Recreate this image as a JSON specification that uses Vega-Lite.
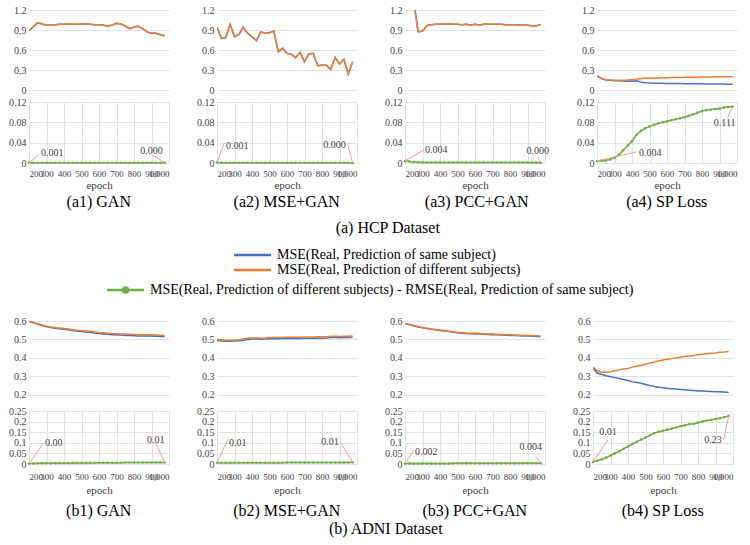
{
"$schema": "https://vega.github.io/schema/vega-lite/v6.json",
"padding": {"left": 8, "top": 5, "right": 5, "bottom": 5},
"background": "white",
"config": {
  "font": "Times New Roman, Liberation Serif, DejaVu Serif, serif",
  "view": {"stroke": null},
  "axis": {"labelFontSize": 10, "labelColor": "#404040", "domain": false, "ticks": false, "gridColor": "#D9D9D9", "gridWidth": 0.8, "titleFontSize": 11, "titleFontWeight": "normal", "titleColor": "#404040", "labelPadding": 3},
  "legend": {"labelFont": "Times New Roman, Liberation Serif, DejaVu Serif, serif"},
  "title": {"font": "Times New Roman, Liberation Serif, DejaVu Serif, serif", "fontSize": 16, "fontWeight": "normal", "color": "#000000", "orient": "bottom", "anchor": "middle", "offset": 4, "dx": 10},
  "text": {"fontSize": 10, "color": "#404040", "baseline": "middle"}
},
"datasets": {
"a1": [
{"e":200,"s":0.89,"d":0.89,"g":0.0008},{"e":225,"s":0.95,"d":0.95,"g":0.0005},{"e":250,"s":1.01,"d":1.01,"g":0.0005},{"e":275,"s":0.99,"d":0.99,"g":0.0005},
{"e":300,"s":0.97,"d":0.97,"g":0.0005},{"e":325,"s":0.975,"d":0.975,"g":0.0005},{"e":350,"s":0.98,"d":0.98,"g":0.0005},{"e":375,"s":0.985,"d":0.985,"g":0.0005},
{"e":400,"s":0.985,"d":0.985,"g":0.0005},{"e":425,"s":0.99,"d":0.99,"g":0.0005},{"e":450,"s":0.985,"d":0.985,"g":0.0005},{"e":475,"s":0.985,"d":0.985,"g":0.0005},
{"e":500,"s":0.99,"d":0.99,"g":0.0005},{"e":525,"s":0.99,"d":0.99,"g":0.0005},{"e":550,"s":0.985,"d":0.985,"g":0.0005},{"e":575,"s":0.98,"d":0.98,"g":0.0005},
{"e":600,"s":0.98,"d":0.98,"g":0.0005},{"e":625,"s":0.975,"d":0.975,"g":0.0005},{"e":650,"s":0.955,"d":0.955,"g":0.0005},{"e":675,"s":0.975,"d":0.975,"g":0.0005},
{"e":700,"s":1.0,"d":1.0,"g":0.0005},{"e":725,"s":0.99,"d":0.99,"g":0.0005},{"e":750,"s":0.96,"d":0.96,"g":0.0005},{"e":775,"s":0.92,"d":0.92,"g":0.0005},
{"e":800,"s":0.945,"d":0.945,"g":0.0005},{"e":825,"s":0.955,"d":0.955,"g":0.0005},{"e":850,"s":0.92,"d":0.92,"g":0.0005},{"e":875,"s":0.87,"d":0.87,"g":0.0005},
{"e":900,"s":0.85,"d":0.85,"g":0.0005},{"e":925,"s":0.85,"d":0.85,"g":0.0005},{"e":950,"s":0.83,"d":0.83,"g":0.0004},{"e":975,"s":0.815,"d":0.815,"g":0.0003}
],
"a2": [
{"e":200,"s":0.95,"d":0.95,"g":0.0009},{"e":225,"s":0.775,"d":0.775,"g":0.0005},{"e":250,"s":0.785,"d":0.785,"g":0.0005},{"e":275,"s":0.985,"d":0.985,"g":0.0005},
{"e":300,"s":0.8,"d":0.8,"g":0.0005},{"e":325,"s":0.835,"d":0.835,"g":0.0005},{"e":350,"s":0.94,"d":0.94,"g":0.0005},{"e":375,"s":0.85,"d":0.85,"g":0.0005},
{"e":400,"s":0.8,"d":0.8,"g":0.0005},{"e":425,"s":0.74,"d":0.74,"g":0.0005},{"e":450,"s":0.87,"d":0.87,"g":0.0005},{"e":475,"s":0.85,"d":0.85,"g":0.0005},
{"e":500,"s":0.86,"d":0.86,"g":0.0005},{"e":525,"s":0.885,"d":0.885,"g":0.0005},{"e":550,"s":0.575,"d":0.575,"g":0.0005},{"e":575,"s":0.625,"d":0.625,"g":0.0005},
{"e":600,"s":0.55,"d":0.55,"g":0.0005},{"e":625,"s":0.535,"d":0.535,"g":0.0005},{"e":650,"s":0.485,"d":0.485,"g":0.0005},{"e":675,"s":0.565,"d":0.565,"g":0.0005},
{"e":700,"s":0.425,"d":0.425,"g":0.0005},{"e":725,"s":0.54,"d":0.54,"g":0.0005},{"e":750,"s":0.55,"d":0.55,"g":0.0005},{"e":775,"s":0.365,"d":0.365,"g":0.0005},
{"e":800,"s":0.37,"d":0.37,"g":0.0005},{"e":825,"s":0.37,"d":0.37,"g":0.0005},{"e":850,"s":0.31,"d":0.31,"g":0.0005},{"e":875,"s":0.49,"d":0.49,"g":0.0005},
{"e":900,"s":0.39,"d":0.39,"g":0.0005},{"e":925,"s":0.46,"d":0.46,"g":0.0005},{"e":950,"s":0.24,"d":0.24,"g":0.0004},{"e":975,"s":0.425,"d":0.425,"g":0.0002}
],
"a3": [
{"e":200,"s":1.5,"d":1.5,"g":0.004},{"e":225,"s":1.45,"d":1.45,"g":0.003},{"e":250,"s":1.33,"d":1.33,"g":0.002},{"e":275,"s":0.875,"d":0.875,"g":0.0015},
{"e":300,"s":0.88,"d":0.88,"g":0.0012},{"e":325,"s":0.965,"d":0.965,"g":0.001},{"e":350,"s":0.98,"d":0.98,"g":0.001},{"e":375,"s":0.985,"d":0.985,"g":0.001},
{"e":400,"s":0.985,"d":0.985,"g":0.001},{"e":425,"s":0.99,"d":0.99,"g":0.001},{"e":450,"s":0.99,"d":0.99,"g":0.001},{"e":475,"s":0.985,"d":0.985,"g":0.001},
{"e":500,"s":0.985,"d":0.985,"g":0.001},{"e":525,"s":0.98,"d":0.98,"g":0.001},{"e":550,"s":0.985,"d":0.985,"g":0.001},{"e":575,"s":0.975,"d":0.975,"g":0.001},
{"e":600,"s":0.985,"d":0.985,"g":0.001},{"e":625,"s":0.975,"d":0.975,"g":0.001},{"e":650,"s":0.985,"d":0.985,"g":0.001},{"e":675,"s":0.985,"d":0.985,"g":0.001},
{"e":700,"s":0.985,"d":0.985,"g":0.001},{"e":725,"s":0.985,"d":0.985,"g":0.001},{"e":750,"s":0.985,"d":0.985,"g":0.001},{"e":775,"s":0.98,"d":0.98,"g":0.001},
{"e":800,"s":0.98,"d":0.98,"g":0.001},{"e":825,"s":0.98,"d":0.98,"g":0.001},{"e":850,"s":0.975,"d":0.975,"g":0.001},{"e":875,"s":0.975,"d":0.975,"g":0.001},
{"e":900,"s":0.97,"d":0.97,"g":0.0009},{"e":925,"s":0.965,"d":0.965,"g":0.0008},{"e":950,"s":0.96,"d":0.96,"g":0.0006},{"e":975,"s":0.985,"d":0.985,"g":0.0003}
],
"a4": [
{"e":200,"s":0.21,"d":0.21,"g":0.004},{"e":225,"s":0.17,"d":0.175,"g":0.004},{"e":250,"s":0.15,"d":0.155,"g":0.005},{"e":275,"s":0.145,"d":0.15,"g":0.007},
{"e":300,"s":0.14,"d":0.148,"g":0.01},{"e":325,"s":0.138,"d":0.148,"g":0.016},{"e":350,"s":0.135,"d":0.148,"g":0.025},{"e":375,"s":0.132,"d":0.15,"g":0.034},
{"e":400,"s":0.13,"d":0.155,"g":0.043},{"e":425,"s":0.14,"d":0.16,"g":0.055},{"e":450,"s":0.12,"d":0.17,"g":0.063},{"e":475,"s":0.11,"d":0.18,"g":0.068},
{"e":500,"s":0.105,"d":0.175,"g":0.072},{"e":525,"s":0.103,"d":0.178,"g":0.075},{"e":550,"s":0.102,"d":0.18,"g":0.078},{"e":575,"s":0.1,"d":0.182,"g":0.08},
{"e":600,"s":0.099,"d":0.184,"g":0.082},{"e":625,"s":0.098,"d":0.186,"g":0.084},{"e":650,"s":0.097,"d":0.187,"g":0.086},{"e":675,"s":0.096,"d":0.188,"g":0.088},
{"e":700,"s":0.095,"d":0.19,"g":0.09},{"e":725,"s":0.094,"d":0.191,"g":0.093},{"e":750,"s":0.093,"d":0.192,"g":0.096},{"e":775,"s":0.092,"d":0.193,"g":0.099},
{"e":800,"s":0.092,"d":0.194,"g":0.102},{"e":825,"s":0.091,"d":0.195,"g":0.104},{"e":850,"s":0.09,"d":0.196,"g":0.105},{"e":875,"s":0.09,"d":0.197,"g":0.106},
{"e":900,"s":0.089,"d":0.197,"g":0.107},{"e":925,"s":0.089,"d":0.198,"g":0.109},{"e":950,"s":0.088,"d":0.199,"g":0.11},{"e":975,"s":0.088,"d":0.2,"g":0.111}
],
"b1": [
{"e":200,"s":0.598,"d":0.6,"g":0.002},{"e":225,"s":0.59,"d":0.592,"g":0.002},{"e":250,"s":0.582,"d":0.585,"g":0.003},{"e":275,"s":0.575,"d":0.578,"g":0.003},
{"e":300,"s":0.569,"d":0.572,"g":0.003},{"e":325,"s":0.565,"d":0.568,"g":0.003},{"e":350,"s":0.561,"d":0.565,"g":0.004},{"e":375,"s":0.558,"d":0.562,"g":0.004},
{"e":400,"s":0.555,"d":0.559,"g":0.004},{"e":425,"s":0.552,"d":0.556,"g":0.004},{"e":450,"s":0.548,"d":0.553,"g":0.005},{"e":475,"s":0.545,"d":0.55,"g":0.005},
{"e":500,"s":0.543,"d":0.548,"g":0.005},{"e":525,"s":0.541,"d":0.546,"g":0.005},{"e":550,"s":0.539,"d":0.544,"g":0.005},{"e":575,"s":0.535,"d":0.541,"g":0.006},
{"e":600,"s":0.532,"d":0.538,"g":0.006},{"e":625,"s":0.53,"d":0.536,"g":0.006},{"e":650,"s":0.528,"d":0.534,"g":0.006},{"e":675,"s":0.526,"d":0.532,"g":0.006},
{"e":700,"s":0.525,"d":0.531,"g":0.006},{"e":725,"s":0.524,"d":0.53,"g":0.006},{"e":750,"s":0.522,"d":0.529,"g":0.007},{"e":775,"s":0.521,"d":0.528,"g":0.007},
{"e":800,"s":0.52,"d":0.527,"g":0.007},{"e":825,"s":0.519,"d":0.526,"g":0.007},{"e":850,"s":0.519,"d":0.526,"g":0.007},{"e":875,"s":0.518,"d":0.525,"g":0.007},
{"e":900,"s":0.518,"d":0.525,"g":0.007},{"e":925,"s":0.517,"d":0.524,"g":0.007},{"e":950,"s":0.516,"d":0.523,"g":0.007},{"e":975,"s":0.515,"d":0.522,"g":0.007}
],
"b2": [
{"e":200,"s":0.494,"d":0.5,"g":0.006},{"e":225,"s":0.492,"d":0.498,"g":0.006},{"e":250,"s":0.49,"d":0.496,"g":0.006},{"e":275,"s":0.49,"d":0.496,"g":0.006},
{"e":300,"s":0.491,"d":0.497,"g":0.006},{"e":325,"s":0.493,"d":0.499,"g":0.006},{"e":350,"s":0.496,"d":0.502,"g":0.006},{"e":375,"s":0.5,"d":0.506,"g":0.006},
{"e":400,"s":0.502,"d":0.508,"g":0.006},{"e":425,"s":0.502,"d":0.508,"g":0.006},{"e":450,"s":0.501,"d":0.507,"g":0.006},{"e":475,"s":0.502,"d":0.508,"g":0.006},
{"e":500,"s":0.504,"d":0.51,"g":0.006},{"e":525,"s":0.505,"d":0.511,"g":0.006},{"e":550,"s":0.504,"d":0.51,"g":0.006},{"e":575,"s":0.505,"d":0.511,"g":0.006},
{"e":600,"s":0.505,"d":0.512,"g":0.007},{"e":625,"s":0.505,"d":0.512,"g":0.007},{"e":650,"s":0.505,"d":0.512,"g":0.007},{"e":675,"s":0.505,"d":0.512,"g":0.007},
{"e":700,"s":0.506,"d":0.513,"g":0.007},{"e":725,"s":0.506,"d":0.513,"g":0.007},{"e":750,"s":0.506,"d":0.513,"g":0.007},{"e":775,"s":0.507,"d":0.514,"g":0.007},
{"e":800,"s":0.507,"d":0.514,"g":0.007},{"e":825,"s":0.508,"d":0.515,"g":0.007},{"e":850,"s":0.51,"d":0.517,"g":0.007},{"e":875,"s":0.51,"d":0.517,"g":0.007},
{"e":900,"s":0.509,"d":0.516,"g":0.007},{"e":925,"s":0.51,"d":0.517,"g":0.007},{"e":950,"s":0.51,"d":0.517,"g":0.007},{"e":975,"s":0.512,"d":0.519,"g":0.008}
],
"b3": [
{"e":200,"s":0.585,"d":0.587,"g":0.002},{"e":225,"s":0.58,"d":0.582,"g":0.002},{"e":250,"s":0.574,"d":0.576,"g":0.002},{"e":275,"s":0.568,"d":0.57,"g":0.002},
{"e":300,"s":0.563,"d":0.565,"g":0.002},{"e":325,"s":0.559,"d":0.561,"g":0.002},{"e":350,"s":0.555,"d":0.557,"g":0.002},{"e":375,"s":0.552,"d":0.554,"g":0.002},
{"e":400,"s":0.549,"d":0.551,"g":0.002},{"e":425,"s":0.546,"d":0.548,"g":0.002},{"e":450,"s":0.543,"d":0.545,"g":0.002},{"e":475,"s":0.539,"d":0.542,"g":0.003},
{"e":500,"s":0.536,"d":0.539,"g":0.003},{"e":525,"s":0.534,"d":0.537,"g":0.003},{"e":550,"s":0.532,"d":0.535,"g":0.003},{"e":575,"s":0.531,"d":0.534,"g":0.003},
{"e":600,"s":0.53,"d":0.533,"g":0.003},{"e":625,"s":0.529,"d":0.532,"g":0.003},{"e":650,"s":0.528,"d":0.531,"g":0.003},{"e":675,"s":0.527,"d":0.53,"g":0.003},
{"e":700,"s":0.526,"d":0.529,"g":0.003},{"e":725,"s":0.525,"d":0.528,"g":0.003},{"e":750,"s":0.524,"d":0.527,"g":0.003},{"e":775,"s":0.523,"d":0.526,"g":0.003},
{"e":800,"s":0.522,"d":0.525,"g":0.003},{"e":825,"s":0.521,"d":0.524,"g":0.003},{"e":850,"s":0.52,"d":0.523,"g":0.003},{"e":875,"s":0.518,"d":0.522,"g":0.004},
{"e":900,"s":0.518,"d":0.522,"g":0.004},{"e":925,"s":0.517,"d":0.521,"g":0.004},{"e":950,"s":0.516,"d":0.52,"g":0.004},{"e":975,"s":0.515,"d":0.519,"g":0.004}
],
"b4": [
{"e":200,"s":0.345,"d":0.35,"g":0.01},{"e":225,"s":0.318,"d":0.33,"g":0.015},{"e":250,"s":0.31,"d":0.322,"g":0.022},{"e":275,"s":0.303,"d":0.322,"g":0.03},
{"e":300,"s":0.298,"d":0.325,"g":0.04},{"e":325,"s":0.293,"d":0.33,"g":0.05},{"e":350,"s":0.288,"d":0.335,"g":0.06},{"e":375,"s":0.283,"d":0.34,"g":0.072},
{"e":400,"s":0.277,"d":0.343,"g":0.083},{"e":425,"s":0.27,"d":0.35,"g":0.095},{"e":450,"s":0.266,"d":0.355,"g":0.105},{"e":475,"s":0.262,"d":0.36,"g":0.115},
{"e":500,"s":0.256,"d":0.366,"g":0.125},{"e":525,"s":0.25,"d":0.372,"g":0.135},{"e":550,"s":0.245,"d":0.378,"g":0.145},{"e":575,"s":0.241,"d":0.383,"g":0.152},
{"e":600,"s":0.238,"d":0.388,"g":0.157},{"e":625,"s":0.235,"d":0.392,"g":0.162},{"e":650,"s":0.233,"d":0.396,"g":0.167},{"e":675,"s":0.231,"d":0.4,"g":0.172},
{"e":700,"s":0.229,"d":0.404,"g":0.178},{"e":725,"s":0.227,"d":0.408,"g":0.183},{"e":750,"s":0.225,"d":0.41,"g":0.188},{"e":775,"s":0.223,"d":0.413,"g":0.19},
{"e":800,"s":0.221,"d":0.417,"g":0.195},{"e":825,"s":0.22,"d":0.42,"g":0.2},{"e":850,"s":0.219,"d":0.423,"g":0.205},{"e":875,"s":0.218,"d":0.425,"g":0.208},
{"e":900,"s":0.217,"d":0.427,"g":0.212},{"e":925,"s":0.216,"d":0.43,"g":0.216},{"e":950,"s":0.215,"d":0.432,"g":0.22},{"e":975,"s":0.213,"d":0.435,"g":0.227}
]
},
"spacing": 80,
"vconcat": [
{
"title": {"text": "(a) HCP Dataset", "fontSize": 16, "offset": 10, "dx": 15},
"spacing": 27,
"hconcat": [
{"title": {"text": "(a1) GAN"}, "bounds": "flush", "spacing": 12, "vconcat": [
 {"width": 140, "height": 80, "data": {"name": "a1"}, "transform": [{"fold": ["s", "d"], "as": ["k", "v"]}],
  "mark": {"type": "line", "strokeWidth": 1.5, "clip": true},
  "encoding": {"x": {"field": "e", "type": "quantitative", "scale": {"domain": [200, 1000]}, "axis": null},
   "y": {"field": "v", "type": "quantitative", "scale": {"domain": [0, 1.2]}, "axis": {"values": [0, 0.3, 0.6, 0.9, 1.2], "format": "~f", "title": null, "labelFont": "Times New Roman"}},
   "color": {"field": "k", "type": "nominal", "scale": {"domain": ["s", "d"], "range": ["#4472C4", "#ED7D31"]},
     "legend": {"orient": "none", "legendX": 230, "legendY": 238, "title": null, "direction": "vertical", "labelFontSize": 14, "labelColor": "#000000", "labelLimit": 700, "symbolType": "M-6.4,0H1", "symbolSize": 100, "symbolStrokeWidth": 2.5, "rowPadding": 1, "labelOffset": 4,
       "labelExpr": "datum.value == 's' ? 'MSE(Real, Prediction of same subject)' : 'MSE(Real, Prediction of different subjects)'"}}}},
 {"width": 140, "height": 61, "data": {"name": "a1"},
  "encoding": {"x": {"field": "e", "type": "quantitative", "scale": {"domain": [200, 1000]}, "axis": {"values": [200, 300, 400, 500, 600, 700, 800, 900, 1000], "title": "epoch", "labelOverlap": false, "labelPadding": 6, "titlePadding": 1, "labelFontSize": 9, "labelFont": "Times New Roman", "titleFont": "Times New Roman"}},
   "y": {"field": "g", "type": "quantitative", "scale": {"domain": [0, 0.12]}, "axis": {"values": [0, 0.04, 0.08, 0.12], "format": "~f", "title": null, "labelFont": "Times New Roman"}}},
  "layer": [
   {"mark": {"type": "line", "strokeWidth": 1.5}, "encoding": {"stroke": {"datum": "g", "type": "nominal", "scale": {"domain": ["g"], "range": ["#70AD47"]},
     "legend": {"orient": "none", "legendX": 103, "legendY": 273, "title": null, "labelFontSize": 14, "labelColor": "#000000", "labelLimit": 700, "symbolType": "M-6.4,0H1M-3.2,0a0.5,0.5,0,1,0,1,0a0.5,0.5,0,1,0,-1,0", "symbolSize": 100, "symbolStrokeWidth": 2.5, "symbolFillColor": "#70AD47", "labelOffset": 4,
       "labelExpr": "'MSE(Real, Prediction of different subjects) - RMSE(Real, Prediction of same subject)'"}}}},
   {"mark": {"type": "circle", "size": 7, "color": "#70AD47", "opacity": 1}},
   {"transform": [{"filter": "datum.e == 200"}], "mark": {"type": "rule", "color": "#EE9A9A", "x2Offset": 10, "y2Offset": -8}, "encoding": {"x2": {"field": "e"}, "y2": {"field": "g"}}},
   {"transform": [{"filter": "datum.e == 200"}], "mark": {"type": "text", "align": "left", "dx": 12, "dy": -10, "font": "Times New Roman"}, "encoding": {"text": {"field": "g", "format": ".3f"}}},
   {"transform": [{"filter": "datum.e == 975"}], "mark": {"type": "rule", "color": "#EE9A9A", "x2Offset": -12, "y2Offset": -8}, "encoding": {"x2": {"field": "e"}, "y2": {"field": "g"}}},
   {"transform": [{"filter": "datum.e == 975"}], "mark": {"type": "text", "align": "right", "dx": -2, "dy": -12, "font": "Times New Roman"}, "encoding": {"text": {"field": "g", "format": ".3f"}}}
  ]}
]},
{"title": {"text": "(a2) MSE+GAN"}, "bounds": "flush", "spacing": 12, "vconcat": [
 {"width": 140, "height": 80, "data": {"name": "a2"}, "transform": [{"fold": ["s", "d"], "as": ["k", "v"]}],
  "mark": {"type": "line", "strokeWidth": 1.5, "clip": true},
  "encoding": {"x": {"field": "e", "type": "quantitative", "scale": {"domain": [200, 1000]}, "axis": null},
   "y": {"field": "v", "type": "quantitative", "scale": {"domain": [0, 1.2]}, "axis": {"values": [0, 0.3, 0.6, 0.9, 1.2], "format": "~f", "title": null, "labelFont": "Times New Roman"}},
   "color": {"field": "k", "type": "nominal"}}},
 {"width": 140, "height": 61, "data": {"name": "a2"},
  "encoding": {"x": {"field": "e", "type": "quantitative", "scale": {"domain": [200, 1000]}, "axis": {"values": [200, 300, 400, 500, 600, 700, 800, 900, 1000], "title": "epoch", "labelOverlap": false, "labelPadding": 6, "titlePadding": 1, "labelFontSize": 9, "labelFont": "Times New Roman", "titleFont": "Times New Roman"}},
   "y": {"field": "g", "type": "quantitative", "scale": {"domain": [0, 0.12]}, "axis": {"values": [0, 0.04, 0.08, 0.12], "format": "~f", "title": null, "labelFont": "Times New Roman"}}},
  "layer": [
   {"mark": {"type": "line", "strokeWidth": 1.5}, "encoding": {"stroke": {"datum": "g", "type": "nominal"}}},
   {"mark": {"type": "circle", "size": 7, "color": "#70AD47", "opacity": 1}},
   {"transform": [{"filter": "datum.e == 200"}], "mark": {"type": "rule", "color": "#EE9A9A", "x2Offset": 7, "y2Offset": -19}, "encoding": {"x2": {"field": "e"}, "y2": {"field": "g"}}},
   {"transform": [{"filter": "datum.e == 200"}], "mark": {"type": "text", "align": "left", "dx": 9, "dy": -17, "font": "Times New Roman"}, "encoding": {"text": {"field": "g", "format": ".3f"}}},
   {"transform": [{"filter": "datum.e == 975"}], "mark": {"type": "rule", "color": "#EE9A9A", "x2Offset": -5, "y2Offset": -19}, "encoding": {"x2": {"field": "e"}, "y2": {"field": "g"}}},
   {"transform": [{"filter": "datum.e == 975"}], "mark": {"type": "text", "align": "right", "dx": -7, "dy": -18, "font": "Times New Roman"}, "encoding": {"text": {"field": "g", "format": ".3f"}}}
  ]}
]},
{"title": {"text": "(a3) PCC+GAN"}, "bounds": "flush", "spacing": 12, "vconcat": [
 {"width": 140, "height": 80, "data": {"name": "a3"}, "transform": [{"fold": ["s", "d"], "as": ["k", "v"]}],
  "mark": {"type": "line", "strokeWidth": 1.5, "clip": true},
  "encoding": {"x": {"field": "e", "type": "quantitative", "scale": {"domain": [200, 1000]}, "axis": null},
   "y": {"field": "v", "type": "quantitative", "scale": {"domain": [0, 1.2]}, "axis": {"values": [0, 0.3, 0.6, 0.9, 1.2], "format": "~f", "title": null, "labelFont": "Times New Roman"}},
   "color": {"field": "k", "type": "nominal"}}},
 {"width": 140, "height": 61, "data": {"name": "a3"},
  "encoding": {"x": {"field": "e", "type": "quantitative", "scale": {"domain": [200, 1000]}, "axis": {"values": [200, 300, 400, 500, 600, 700, 800, 900, 1000], "title": "epoch", "labelOverlap": false, "labelPadding": 6, "titlePadding": 1, "labelFontSize": 9, "labelFont": "Times New Roman", "titleFont": "Times New Roman"}},
   "y": {"field": "g", "type": "quantitative", "scale": {"domain": [0, 0.12]}, "axis": {"values": [0, 0.04, 0.08, 0.12], "format": "~f", "title": null, "labelFont": "Times New Roman"}}},
  "layer": [
   {"mark": {"type": "line", "strokeWidth": 1.5}, "encoding": {"stroke": {"datum": "g", "type": "nominal"}}},
   {"mark": {"type": "circle", "size": 7, "color": "#70AD47", "opacity": 1}},
   {"transform": [{"filter": "datum.e == 200"}], "mark": {"type": "rule", "color": "#EE9A9A", "x2Offset": 19, "y2Offset": -11}, "encoding": {"x2": {"field": "e"}, "y2": {"field": "g"}}},
   {"transform": [{"filter": "datum.e == 200"}], "mark": {"type": "text", "align": "left", "dx": 20, "dy": -11, "font": "Times New Roman"}, "encoding": {"text": {"field": "g", "format": ".3f"}}},
   {"transform": [{"filter": "datum.e == 975"}], "mark": {"type": "rule", "color": "#EE9A9A", "x2Offset": -3, "y2Offset": -6}, "encoding": {"x2": {"field": "e"}, "y2": {"field": "g"}}},
   {"transform": [{"filter": "datum.e == 975"}], "mark": {"type": "text", "align": "center", "dx": -3, "dy": -12, "font": "Times New Roman"}, "encoding": {"text": {"field": "g", "format": ".3f"}}}
  ]}
]},
{"title": {"text": "(a4) SP Loss"}, "bounds": "flush", "spacing": 12, "vconcat": [
 {"width": 140, "height": 80, "data": {"name": "a4"}, "transform": [{"fold": ["s", "d"], "as": ["k", "v"]}],
  "mark": {"type": "line", "strokeWidth": 1.5, "clip": true},
  "encoding": {"x": {"field": "e", "type": "quantitative", "scale": {"domain": [200, 1000]}, "axis": null},
   "y": {"field": "v", "type": "quantitative", "scale": {"domain": [0, 1.2]}, "axis": {"values": [0, 0.3, 0.6, 0.9, 1.2], "format": "~f", "title": null, "labelFont": "Times New Roman"}},
   "color": {"field": "k", "type": "nominal"}}},
 {"width": 140, "height": 61, "data": {"name": "a4"},
  "encoding": {"x": {"field": "e", "type": "quantitative", "scale": {"domain": [200, 1000]}, "axis": {"values": [200, 300, 400, 500, 600, 700, 800, 900, 1000], "title": "epoch", "labelOverlap": false, "labelPadding": 6, "titlePadding": 1, "labelFontSize": 9, "labelFont": "Times New Roman", "titleFont": "Times New Roman"}},
   "y": {"field": "g", "type": "quantitative", "scale": {"domain": [0, 0.12]}, "axis": {"values": [0, 0.04, 0.08, 0.12], "format": "~f", "title": null, "labelFont": "Times New Roman"}}},
  "layer": [
   {"mark": {"type": "line", "strokeWidth": 1.5}, "encoding": {"stroke": {"datum": "g", "type": "nominal"}}},
   {"mark": {"type": "circle", "size": 7, "color": "#70AD47", "opacity": 1}},
   {"transform": [{"filter": "datum.e == 200"}], "mark": {"type": "rule", "color": "#EE9A9A", "x2Offset": 39, "y2Offset": -9}, "encoding": {"x2": {"field": "e"}, "y2": {"field": "g"}}},
   {"transform": [{"filter": "datum.e == 200"}], "mark": {"type": "text", "align": "left", "dx": 42, "dy": -8, "font": "Times New Roman"}, "encoding": {"text": {"field": "g", "format": ".3f"}}},
   {"transform": [{"filter": "datum.e == 975"}], "mark": {"type": "rule", "color": "#EE9A9A", "x2Offset": -5, "y2Offset": 11}, "encoding": {"x2": {"field": "e"}, "y2": {"field": "g"}}},
   {"transform": [{"filter": "datum.e == 975"}], "mark": {"type": "text", "align": "center", "dx": -8, "dy": 16, "font": "Times New Roman"}, "encoding": {"text": {"field": "g", "format": ".3f"}}}
  ]}
]}
]
},
{
"title": {"text": "(b) ADNI Dataset", "fontSize": 16, "offset": 2, "dx": 15},
"spacing": 27,
"hconcat": [
{"title": {"text": "(b1) GAN", "offset": 8}, "bounds": "flush", "spacing": 7, "vconcat": [
 {"width": 140, "height": 83, "data": {"name": "b1"}, "transform": [{"fold": ["s", "d"], "as": ["k", "v"]}],
  "mark": {"type": "line", "strokeWidth": 1.5, "clip": true},
  "encoding": {"x": {"field": "e", "type": "quantitative", "scale": {"domain": [200, 1000]}, "axis": null},
   "y": {"field": "v", "type": "quantitative", "scale": {"domain": [0.15, 0.6]}, "axis": {"values": [0.2, 0.3, 0.4, 0.5, 0.6], "format": "~f", "title": null, "labelFont": "Liberation Serif"}},
   "color": {"field": "k", "type": "nominal"}}},
 {"width": 140, "height": 53, "data": {"name": "b1"},
  "encoding": {"x": {"field": "e", "type": "quantitative", "scale": {"domain": [200, 1000]}, "axis": {"values": [200, 300, 400, 500, 600, 700, 800, 900, 1000], "title": "epoch", "labelOverlap": false, "labelPadding": 8, "titlePadding": 3, "labelFontSize": 9, "labelFont": "Liberation Serif", "titleFont": "Liberation Serif"}},
   "y": {"field": "g", "type": "quantitative", "scale": {"domain": [0, 0.25]}, "axis": {"values": [0, 0.05, 0.1, 0.15, 0.2, 0.25], "format": "~f", "title": null, "labelFont": "Liberation Serif"}}},
  "layer": [
   {"mark": {"type": "line", "strokeWidth": 1.5}, "encoding": {"stroke": {"datum": "g", "type": "nominal"}}},
   {"mark": {"type": "circle", "size": 7, "color": "#70AD47", "opacity": 1}},
   {"transform": [{"filter": "datum.e == 200"}], "mark": {"type": "rule", "color": "#EE9A9A", "x2Offset": 15, "y2Offset": -21}, "encoding": {"x2": {"field": "e"}, "y2": {"field": "g"}}},
   {"transform": [{"filter": "datum.e == 200"}], "mark": {"type": "text", "align": "left", "dx": 16, "dy": -21, "font": "Liberation Serif"}, "encoding": {"text": {"field": "g", "format": ".2f"}}},
   {"transform": [{"filter": "datum.e == 975"}], "mark": {"type": "rule", "color": "#EE9A9A", "x2Offset": -9, "y2Offset": -20}, "encoding": {"x2": {"field": "e"}, "y2": {"field": "g"}}},
   {"transform": [{"filter": "datum.e == 975"}], "mark": {"type": "text", "align": "center", "dx": -9, "dy": -23, "font": "Liberation Serif"}, "encoding": {"text": {"field": "g", "format": ".2f"}}}
  ]}
]},
{"title": {"text": "(b2) MSE+GAN", "offset": 8}, "bounds": "flush", "spacing": 7, "vconcat": [
 {"width": 140, "height": 83, "data": {"name": "b2"}, "transform": [{"fold": ["s", "d"], "as": ["k", "v"]}],
  "mark": {"type": "line", "strokeWidth": 1.5, "clip": true},
  "encoding": {"x": {"field": "e", "type": "quantitative", "scale": {"domain": [200, 1000]}, "axis": null},
   "y": {"field": "v", "type": "quantitative", "scale": {"domain": [0.15, 0.6]}, "axis": {"values": [0.2, 0.3, 0.4, 0.5, 0.6], "format": "~f", "title": null, "labelFont": "Liberation Serif"}},
   "color": {"field": "k", "type": "nominal"}}},
 {"width": 140, "height": 53, "data": {"name": "b2"},
  "encoding": {"x": {"field": "e", "type": "quantitative", "scale": {"domain": [200, 1000]}, "axis": {"values": [200, 300, 400, 500, 600, 700, 800, 900, 1000], "title": "epoch", "labelOverlap": false, "labelPadding": 8, "titlePadding": 3, "labelFontSize": 9, "labelFont": "Liberation Serif", "titleFont": "Liberation Serif"}},
   "y": {"field": "g", "type": "quantitative", "scale": {"domain": [0, 0.25]}, "axis": {"values": [0, 0.05, 0.1, 0.15, 0.2, 0.25], "format": "~f", "title": null, "labelFont": "Liberation Serif"}}},
  "layer": [
   {"mark": {"type": "line", "strokeWidth": 1.5}, "encoding": {"stroke": {"datum": "g", "type": "nominal"}}},
   {"mark": {"type": "circle", "size": 7, "color": "#70AD47", "opacity": 1}},
   {"transform": [{"filter": "datum.e == 200"}], "mark": {"type": "rule", "color": "#EE9A9A", "x2Offset": 11, "y2Offset": -24}, "encoding": {"x2": {"field": "e"}, "y2": {"field": "g"}}},
   {"transform": [{"filter": "datum.e == 200"}], "mark": {"type": "text", "align": "left", "dx": 12, "dy": -20, "font": "Liberation Serif"}, "encoding": {"text": {"field": "g", "format": ".2f"}}},
   {"transform": [{"filter": "datum.e == 975"}], "mark": {"type": "rule", "color": "#EE9A9A", "x2Offset": -12, "y2Offset": -20}, "encoding": {"x2": {"field": "e"}, "y2": {"field": "g"}}},
   {"transform": [{"filter": "datum.e == 975"}], "mark": {"type": "text", "align": "right", "dx": -14, "dy": -20, "font": "Liberation Serif"}, "encoding": {"text": {"field": "g", "format": ".2f"}}}
  ]}
]},
{"title": {"text": "(b3) PCC+GAN", "offset": 8}, "bounds": "flush", "spacing": 7, "vconcat": [
 {"width": 140, "height": 83, "data": {"name": "b3"}, "transform": [{"fold": ["s", "d"], "as": ["k", "v"]}],
  "mark": {"type": "line", "strokeWidth": 1.5, "clip": true},
  "encoding": {"x": {"field": "e", "type": "quantitative", "scale": {"domain": [200, 1000]}, "axis": null},
   "y": {"field": "v", "type": "quantitative", "scale": {"domain": [0.15, 0.6]}, "axis": {"values": [0.2, 0.3, 0.4, 0.5, 0.6], "format": "~f", "title": null, "labelFont": "Liberation Serif"}},
   "color": {"field": "k", "type": "nominal"}}},
 {"width": 140, "height": 53, "data": {"name": "b3"},
  "encoding": {"x": {"field": "e", "type": "quantitative", "scale": {"domain": [200, 1000]}, "axis": {"values": [200, 300, 400, 500, 600, 700, 800, 900, 1000], "title": "epoch", "labelOverlap": false, "labelPadding": 8, "titlePadding": 3, "labelFontSize": 9, "labelFont": "Liberation Serif", "titleFont": "Liberation Serif"}},
   "y": {"field": "g", "type": "quantitative", "scale": {"domain": [0, 0.25]}, "axis": {"values": [0, 0.05, 0.1, 0.15, 0.2, 0.25], "format": "~f", "title": null, "labelFont": "Liberation Serif"}}},
  "layer": [
   {"mark": {"type": "line", "strokeWidth": 1.5}, "encoding": {"stroke": {"datum": "g", "type": "nominal"}}},
   {"mark": {"type": "circle", "size": 7, "color": "#70AD47", "opacity": 1}},
   {"transform": [{"filter": "datum.e == 200"}], "mark": {"type": "rule", "color": "#EE9A9A", "x2Offset": 9, "y2Offset": -14}, "encoding": {"x2": {"field": "e"}, "y2": {"field": "g"}}},
   {"transform": [{"filter": "datum.e == 200"}], "mark": {"type": "text", "align": "left", "dx": 10, "dy": -12, "font": "Liberation Serif"}, "encoding": {"text": {"field": "g", "format": ".3f"}}},
   {"transform": [{"filter": "datum.e == 975"}], "mark": {"type": "rule", "color": "#EE9A9A", "x2Offset": -5, "y2Offset": -7}, "encoding": {"x2": {"field": "e"}, "y2": {"field": "g"}}},
   {"transform": [{"filter": "datum.e == 975"}], "mark": {"type": "text", "align": "center", "dx": -10, "dy": -16, "font": "Liberation Serif"}, "encoding": {"text": {"field": "g", "format": ".3f"}}}
  ]}
]},
{"title": {"text": "(b4) SP Loss", "offset": 8}, "bounds": "flush", "spacing": 7, "vconcat": [
 {"width": 140, "height": 83, "data": {"name": "b4"}, "transform": [{"fold": ["s", "d"], "as": ["k", "v"]}],
  "mark": {"type": "line", "strokeWidth": 1.5, "clip": true},
  "encoding": {"x": {"field": "e", "type": "quantitative", "scale": {"domain": [200, 1000]}, "axis": null},
   "y": {"field": "v", "type": "quantitative", "scale": {"domain": [0.15, 0.6]}, "axis": {"values": [0.2, 0.3, 0.4, 0.5, 0.6], "format": "~f", "title": null, "labelFont": "Liberation Serif"}},
   "color": {"field": "k", "type": "nominal"}}},
 {"width": 140, "height": 53, "data": {"name": "b4"},
  "encoding": {"x": {"field": "e", "type": "quantitative", "scale": {"domain": [200, 1000]}, "axis": {"values": [200, 300, 400, 500, 600, 700, 800, 900, 1000], "title": "epoch", "labelOverlap": false, "labelPadding": 8, "titlePadding": 3, "labelFontSize": 9, "labelFont": "Liberation Serif", "titleFont": "Liberation Serif"}},
   "y": {"field": "g", "type": "quantitative", "scale": {"domain": [0, 0.25]}, "axis": {"values": [0, 0.05, 0.1, 0.15, 0.2, 0.25], "format": "~f", "title": null, "labelFont": "Liberation Serif"}}},
  "layer": [
   {"mark": {"type": "line", "strokeWidth": 1.5}, "encoding": {"stroke": {"datum": "g", "type": "nominal"}}},
   {"mark": {"type": "circle", "size": 7, "color": "#70AD47", "opacity": 1}},
   {"transform": [{"filter": "datum.e == 200"}], "mark": {"type": "rule", "color": "#EE9A9A", "x2Offset": 15, "y2Offset": -22}, "encoding": {"x2": {"field": "e"}, "y2": {"field": "g"}}},
   {"transform": [{"filter": "datum.e == 200"}], "mark": {"type": "text", "align": "center", "dx": 15, "dy": -30, "font": "Liberation Serif"}, "encoding": {"text": {"field": "g", "format": ".2f"}}},
   {"transform": [{"filter": "datum.e == 975"}], "mark": {"type": "rule", "color": "#EE9A9A", "x2Offset": -5, "y2Offset": 24}, "encoding": {"x2": {"field": "e"}, "y2": {"field": "g"}}},
   {"transform": [{"filter": "datum.e == 975"}], "mark": {"type": "text", "align": "right", "dx": -7, "dy": 24, "font": "Liberation Serif"}, "encoding": {"text": {"field": "g", "format": ".2f"}}}
  ]}
]}
]
}
]
}
